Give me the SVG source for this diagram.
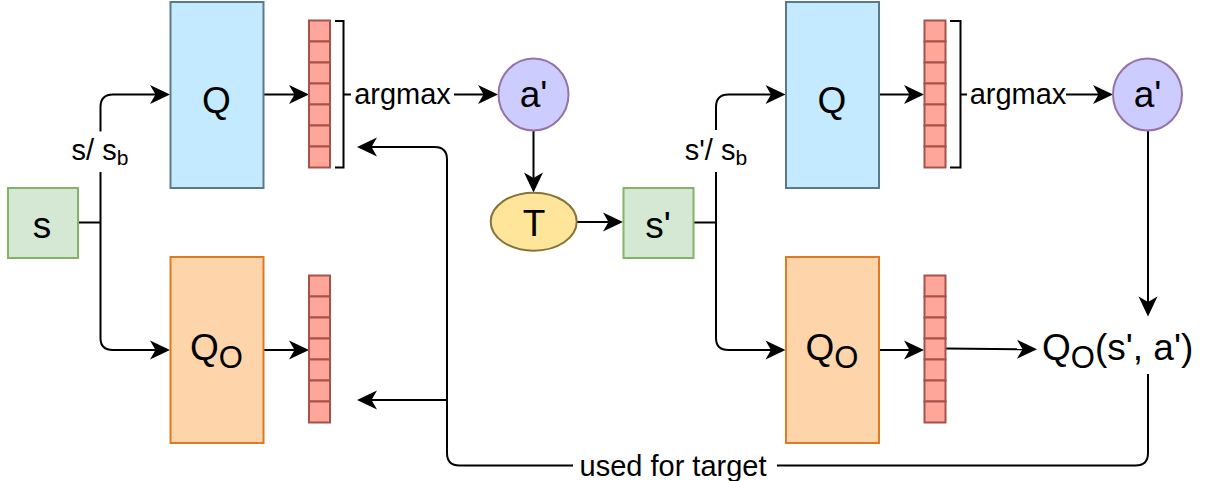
<svg xmlns="http://www.w3.org/2000/svg" xmlns:xlink="http://www.w3.org/1999/xlink" width="1205" height="481" viewBox="0 0 1205 481">
  <defs>
    <style>
      .ln{fill:none;stroke:#000;stroke-width:2}
      .arr{marker-end:url(#ah)}
      .q{fill:#c4eaff;stroke:#5a7a8b;stroke-width:2}
      .qo{fill:#fed4ab;stroke:#e07a22;stroke-width:2}
      .st{fill:#d5e8d4;stroke:#82b366;stroke-width:2}
      .cell{fill:#ffa69b;stroke:#a5524b;stroke-width:2}
      .act{fill:#ccccff;stroke:#9673a6;stroke-width:2}
      .tr{fill:#ffe599;stroke:#857339;stroke-width:2}
      text{font-family:"Liberation Sans",Arial,sans-serif;fill:#000}
      .big{font-size:37px}
      .lbl{font-size:29px}
      .sub{font-size:31px}
      .subs{font-size:21px}
    </style>
    <marker id="ah" viewBox="-22 -11 22 22" refX="-4" refY="0" markerWidth="22" markerHeight="22" markerUnits="userSpaceOnUse" orient="auto">
      <path d="M0,0 L-20,-9.5 L-14.5,0 L-20,9.5 Z" fill="#000"/>
    </marker>
    <!-- output vector: 7 stacked cells -->
    <g id="vec">
      <rect class="cell" x="0" y="0" width="21" height="21"/>
      <rect class="cell" x="0" y="21" width="21" height="21"/>
      <rect class="cell" x="0" y="42" width="21" height="21"/>
      <rect class="cell" x="0" y="63" width="21" height="21"/>
      <rect class="cell" x="0" y="84" width="21" height="21"/>
      <rect class="cell" x="0" y="105" width="21" height="21"/>
      <rect class="cell" x="0" y="126" width="21" height="21"/>
    </g>
  </defs>

  <rect width="1205" height="481" fill="#fff"/>

  <!-- connectors -->
  <g id="connectors">
    <!-- left half -->
    <path class="ln" d="M78,222.5 H100.5"/>
    <path class="ln arr" d="M100.5,131.5 V107 Q100.5,94.5 113,94.5 H166"/>
    <path class="ln arr" d="M100.5,172 V338 Q100.5,350 113,350 H166"/>
    <path class="ln arr" d="M263,94.5 H305"/>
    <path class="ln arr" d="M263,350 H305"/>
    <path class="ln" d="M335,21 H343.5 V167.5 H335"/>
    <path class="ln" d="M343.5,94.5 H351"/>
    <path class="ln arr" d="M454,94.5 H494"/>
    <path class="ln arr" d="M533.5,130.5 V188.5"/>
    <path class="ln arr" d="M577,222 H619"/>
    <!-- right half -->
    <path class="ln" d="M694,222.5 H716"/>
    <path class="ln arr" d="M716,130 V107 Q716,94.5 728.5,94.5 H781.5"/>
    <path class="ln arr" d="M716,172 V338 Q716,350 728.5,350 H781.5"/>
    <path class="ln arr" d="M879,94.5 H920"/>
    <path class="ln arr" d="M879,350 H920"/>
    <path class="ln" d="M950,21 H960.5 V167.5 H950"/>
    <path class="ln" d="M960.5,94.5 H967"/>
    <path class="ln arr" d="M1066,94.5 H1109"/>
    <path class="ln arr" d="M1148,131 V312.5"/>
    <path class="ln arr" d="M946,348.5 L1033,349.3"/>
    <!-- target feedback loop -->
    <path class="ln" d="M1148,374 V453 Q1148,465.5 1135.5,465.5 H777"/>
    <path class="ln arr" d="M573,465.5 H459.5 Q447,465.5 447,453 V159.5 Q447,147 434.5,147 H361"/>
    <path class="ln arr" d="M447,400 H361"/>
  </g>

  <!-- edge labels -->
  <g id="labels">
    <text class="lbl" x="100" y="160" text-anchor="middle">s/ s<tspan class="subs" dy="5">b</tspan></text>
    <text class="lbl" x="716" y="160" text-anchor="middle">s'/ s<tspan class="subs" dy="5">b</tspan></text>
    <text class="lbl" x="402.5" y="104" text-anchor="middle">argmax</text>
    <text class="lbl" x="1018" y="104" text-anchor="middle">argmax</text>
    <text class="lbl" x="673" y="476" text-anchor="middle">used for target</text>
  </g>

  <!-- left half nodes -->
  <g id="s">
    <rect class="st" x="8" y="188" width="70" height="70"/>
    <text class="big" x="42" y="238" text-anchor="middle">s</text>
  </g>
  <g id="q1">
    <rect class="q" x="170.5" y="2" width="93" height="186"/>
    <text class="big" x="216.5" y="113" text-anchor="middle">Q</text>
  </g>
  <g id="qo1">
    <rect class="qo" x="170.5" y="257" width="93" height="186"/>
    <text class="big" x="216.5" y="360" text-anchor="middle">Q<tspan class="sub" dy="7.5">O</tspan></text>
  </g>
  <g id="vec-q1"><use xlink:href="#vec" x="309" y="20.5"/></g>
  <g id="vec-qo1"><use xlink:href="#vec" x="309" y="275.5"/></g>
  <g id="a1">
    <ellipse class="act" cx="533.5" cy="94.5" rx="35" ry="36"/>
    <text class="big" x="533.5" y="107" text-anchor="middle">a'</text>
  </g>
  <g id="t">
    <ellipse class="tr" cx="533.7" cy="221.7" rx="43" ry="29"/>
    <text class="big" x="534" y="236" text-anchor="middle">T</text>
  </g>

  <!-- right half nodes -->
  <g id="s2">
    <rect class="st" x="623.5" y="188" width="70" height="70"/>
    <text class="big" x="658" y="238" text-anchor="middle">s'</text>
  </g>
  <g id="q2">
    <rect class="q" x="786" y="2" width="93" height="186"/>
    <text class="big" x="832" y="113" text-anchor="middle">Q</text>
  </g>
  <g id="qo2">
    <rect class="qo" x="786" y="257" width="93" height="186"/>
    <text class="big" x="832" y="360" text-anchor="middle">Q<tspan class="sub" dy="7.5">O</tspan></text>
  </g>
  <g id="vec-q2"><use xlink:href="#vec" x="924.5" y="20.5"/></g>
  <g id="vec-qo2"><use xlink:href="#vec" x="924.5" y="275.5"/></g>
  <g id="a2">
    <ellipse class="act" cx="1147.5" cy="94.5" rx="34.5" ry="36"/>
    <text class="big" x="1147.5" y="107" text-anchor="middle">a'</text>
  </g>
  <g id="qo-value">
    <text class="big" x="1042" y="360">Q<tspan class="sub" dy="7.5">O</tspan><tspan dy="-7.5">(s', a')</tspan></text>
  </g>
</svg>
